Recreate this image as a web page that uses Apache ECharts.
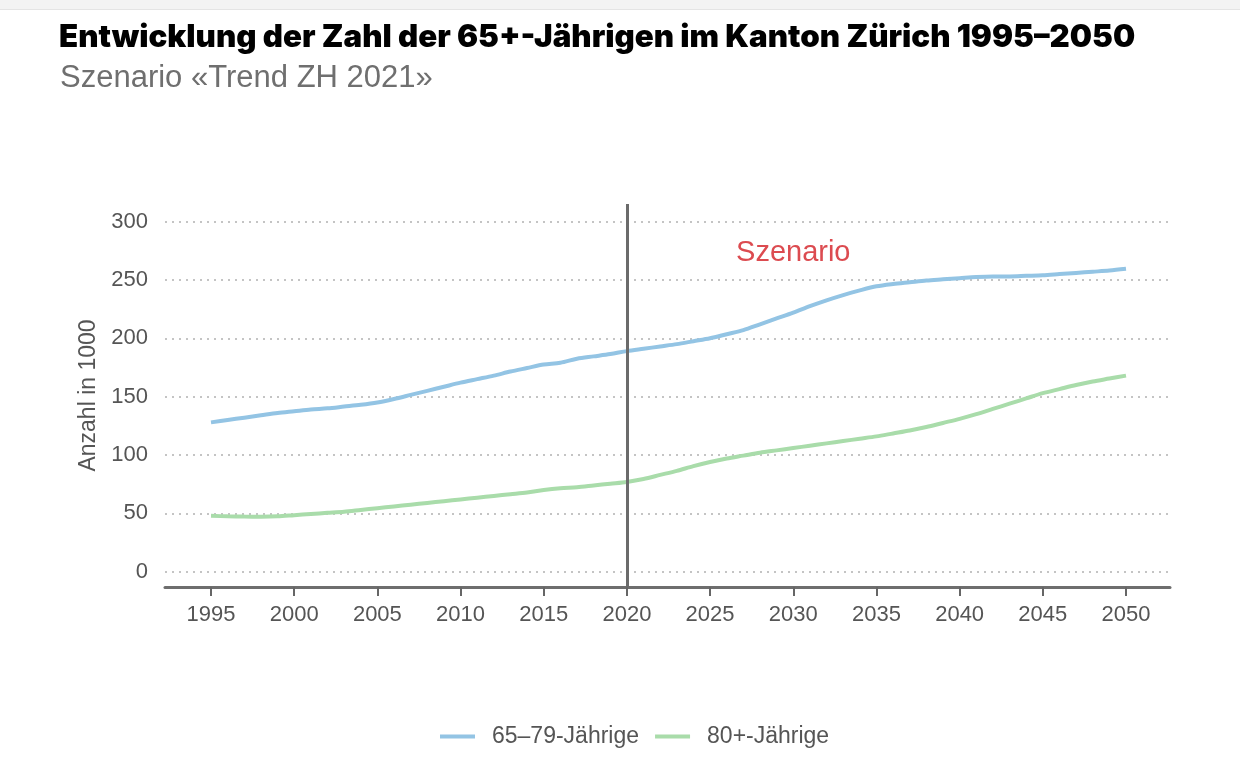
<!DOCTYPE html>
<html>
<head>
<meta charset="utf-8">
<script src="https://cdn.jsdelivr.net/npm/echarts@6/dist/echarts.min.js"></script>
<style>html,body{margin:0;padding:0;background:#fff}#c{width:1240px;height:764px}</style>
</head>
<body>
<div id="c"></div>
<script>
const years = [];
for (let y = 1995; y <= 2050; y++) years.push(y);
const values6579 = [128,130,132,134,136,137.5,139,140,141.5,143,145,148,151.5,155,158.5,162,165,168,171.5,174.5,177.5,179,182.5,184.5,186.5,189,191,193,195,197.5,200,203.5,207,212,217,222,227.5,232.5,237,241,244.5,246.5,248,249.5,250.5,251.5,252.5,253,253,253.5,254,255,256,257,258,259.5];
const values80 = [48,47.5,47.3,47.2,47.5,48.5,49.5,50.5,51.5,53,54.5,56,57.5,59,60.5,62,63.5,65,66.5,68,70,71.5,72.5,74,75.5,77,79.5,83,86.5,90.5,94,97,99.5,102,104,106,108,110,112,114,116,118.5,121,124,127.5,131,135,139.5,144,148.5,153,156.5,160,163,165.5,168];
const xTicks = [1995,2000,2005,2010,2015,2020,2025,2030,2035,2040,2045,2050];
const yTicks = [0,50,100,150,200,250,300];
const seriesNames = ['65–79-Jährige','80+-Jährige'];
const scenarioYear = 2020;
const scenarioLabel = {text:'Szenario', x:2030, y:273};

const font = 'Liberation Sans, Arial, sans-serif';
const chart = echarts.init(document.getElementById('c'));
chart.setOption({
  backgroundColor:'#fff',
  animation:false,
  graphic:[
    {type:'rect', left:0, top:0, shape:{width:1240, height:9}, style:{fill:'#f3f3f3'}, silent:true},
    {type:'rect', left:0, top:9, shape:{width:1240, height:1}, style:{fill:'#e4e4e4'}, silent:true}
  ],
  title:[
    {text:'Entwicklung der Zahl der 65+-Jährigen im Kanton Zürich 1995–2050', left:54, top:17,
     textStyle:{fontFamily:'Inter', fontWeight:900, fontSize:31.3, color:'#000'}},
    {text:'Szenario «Trend ZH 2021»', left:55, top:58,
     textStyle:{fontFamily:font, fontWeight:'normal', fontSize:31, color:'#6f6f6f'}}
  ],
  legend:{
    top:720, left:435, icon:'rect', itemWidth:35, itemHeight:4, itemGap:16,
    textStyle:{fontFamily:font, fontSize:23, color:'#555', padding:[0,0,0,12]},
    data:seriesNames
  },
  grid:{left:165, right:70, top:204, bottom:177},
  xAxis:{
    type:'value', min:1992.235, max:2052.645,
    axisLine:{show:true, onZero:false, lineStyle:{color:'#6e6e6e', width:3}},
    axisTick:{show:true, customValues:xTicks, length:9, lineStyle:{color:'#666', width:2}},
    axisLabel:{customValues:xTicks, margin:17, fontFamily:font, fontSize:22, color:'#555', formatter:v=>String(v)},
    splitLine:{show:false}
  },
  yAxis:{
    type:'value', min:-13, max:315,
    name:'Anzahl in 1000', nameLocation:'middle', nameGap:64, nameRotate:90,
    nameTextStyle:{fontFamily:font, fontSize:23, color:'#555'},
    axisLine:{show:false},
    axisTick:{show:false, customValues:yTicks},
    axisLabel:{customValues:yTicks, margin:17, fontFamily:font, fontSize:22, color:'#555'},
    splitLine:{show:true, lineStyle:{color:'#c4c4c4', width:2, type:[2,5]}}
  },
  series:[
    {name:seriesNames[0], type:'line', data:years.map((y,i)=>[y,values6579[i]]),
     showSymbol:false, symbol:'none', smooth:0.3, lineStyle:{color:'#93c4e4', width:4}, itemStyle:{color:'#93c4e4'},
     markLine:{silent:true, symbol:'none', label:{show:false},
       lineStyle:{color:'#6b6b6b', width:3, type:'solid'}, data:[{xAxis:scenarioYear}]},
     markPoint:{silent:true, symbol:'circle', symbolSize:0,
       label:{show:true, formatter:scenarioLabel.text, position:'inside', fontFamily:font, fontSize:29, color:'#dc4b50'},
       data:[{coord:[scenarioLabel.x, scenarioLabel.y]}]}
    },
    {name:seriesNames[1], type:'line', data:years.map((y,i)=>[y,values80[i]]),
     showSymbol:false, symbol:'none', smooth:0.3, lineStyle:{color:'#a9dcaa', width:4}, itemStyle:{color:'#a9dcaa'}}
  ]
});
</script>
</body>
</html>
